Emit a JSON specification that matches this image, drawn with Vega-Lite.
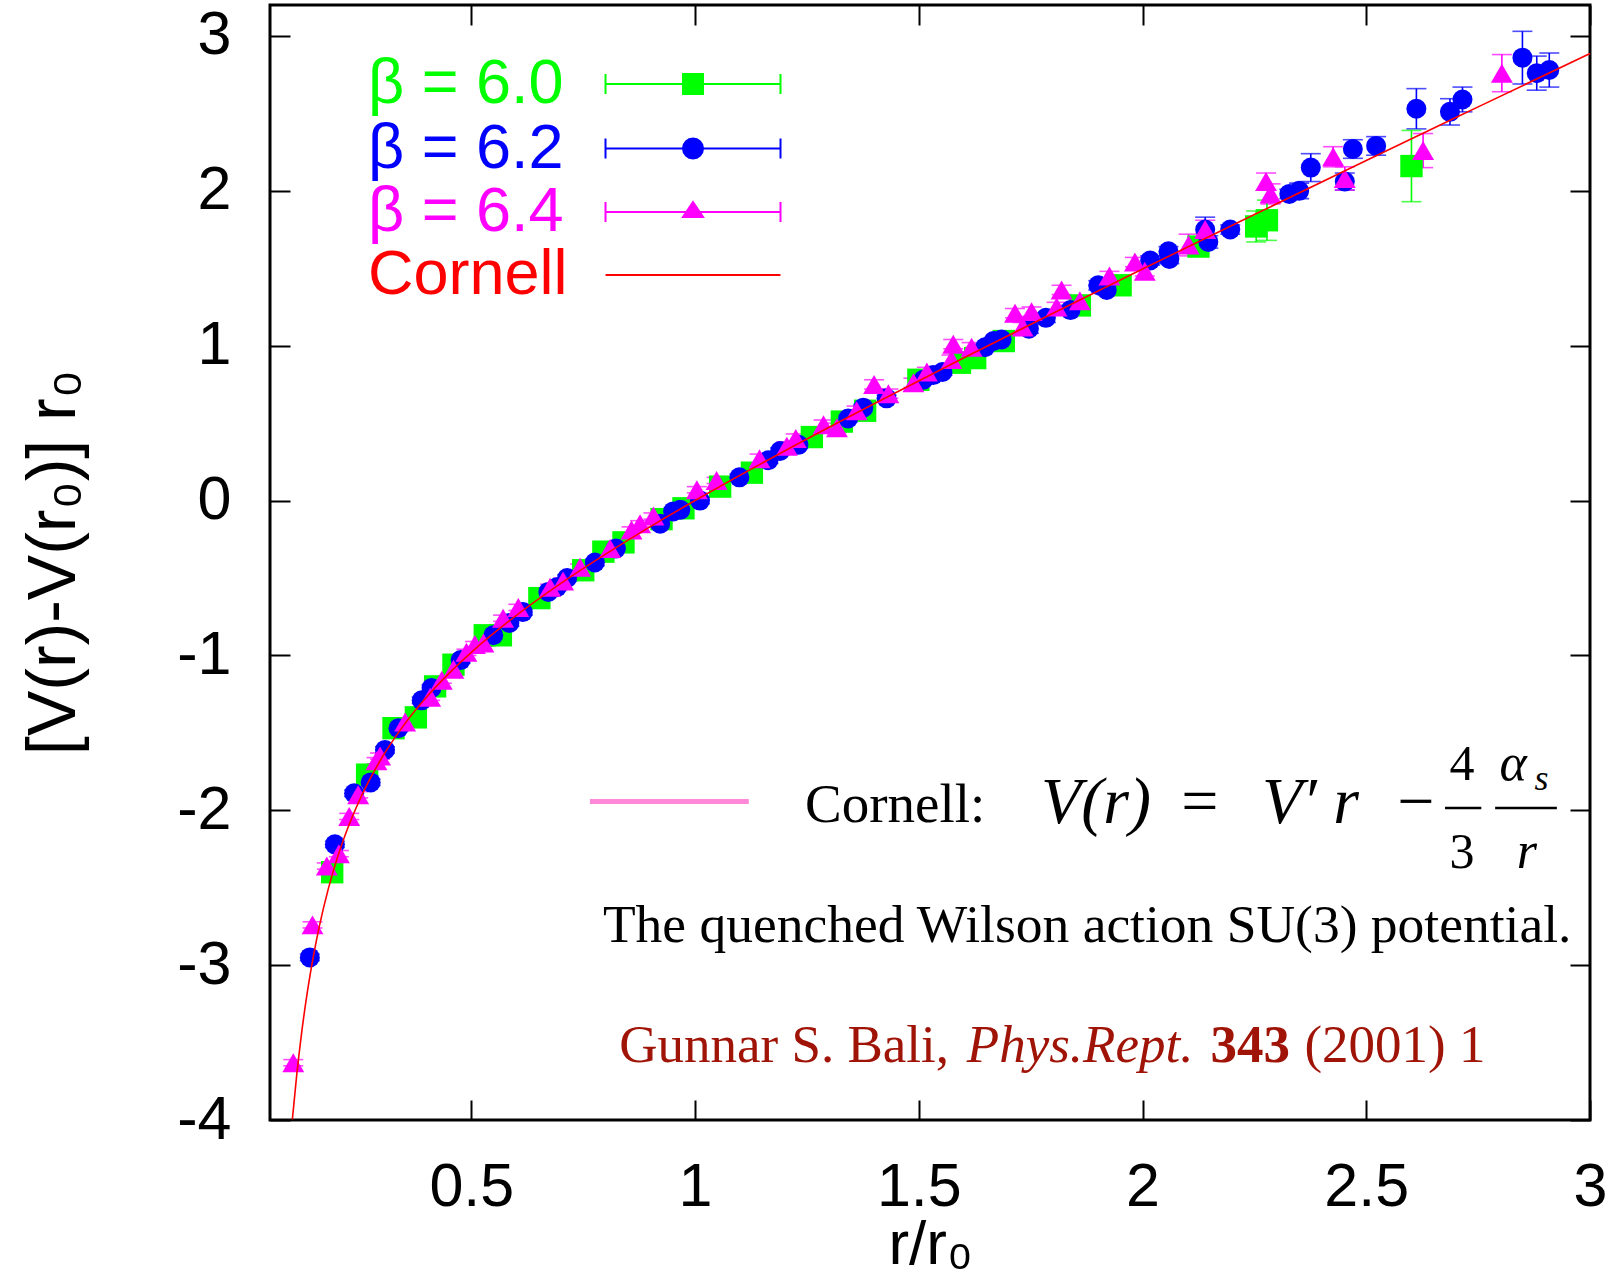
{
"$schema":"https://vega.github.io/schema/vega-lite/v6.json",
"width":1320,"height":1115,
"autosize":"none",
"padding":{"left":270,"top":5,"right":19,"bottom":162},
"background":"white",
"config":{
 "view":{"stroke":"black","strokeWidth":3},
 "axis":{"domain":false,"grid":false,"ticks":true,"tickSize":-20,"tickWidth":2,"tickColor":"black","labelFont":"Liberation Sans","labelFontSize":61,"labelColor":"black","titleFont":"Liberation Sans","titleFontWeight":"normal","titleColor":"black","labelFlush":false,"labelOverlap":false,"labelBound":false}
},
"datasets":{
 "pts":[
  {"s":"β = 6.0","x":0.189,"y":-2.40,"e":0.02},{"s":"β = 6.0","x":0.267,"y":-1.77,"e":0.02},{"s":"β = 6.0","x":0.326,"y":-1.47,"e":0.02},{"s":"β = 6.0","x":0.376,"y":-1.40,"e":0.02},{"s":"β = 6.0","x":0.419,"y":-1.20,"e":0.02},{"s":"β = 6.0","x":0.460,"y":-1.06,"e":0.02},{"s":"β = 6.0","x":0.530,"y":-0.87,"e":0.02},{"s":"β = 6.0","x":0.566,"y":-0.87,"e":0.02},{"s":"β = 6.0","x":0.652,"y":-0.63,"e":0.02},{"s":"β = 6.0","x":0.750,"y":-0.45,"e":0.02},{"s":"β = 6.0","x":0.795,"y":-0.33,"e":0.02},{"s":"β = 6.0","x":0.840,"y":-0.27,"e":0.02},{"s":"β = 6.0","x":0.925,"y":-0.12,"e":0.02},{"s":"β = 6.0","x":0.974,"y":-0.05,"e":0.02},{"s":"β = 6.0","x":1.056,"y":0.09,"e":0.02},{"s":"β = 6.0","x":1.127,"y":0.18,"e":0.02},{"s":"β = 6.0","x":1.261,"y":0.41,"e":0.02},{"s":"β = 6.0","x":1.328,"y":0.51,"e":0.02},{"s":"β = 6.0","x":1.380,"y":0.58,"e":0.02},{"s":"β = 6.0","x":1.499,"y":0.78,"e":0.02},{"s":"β = 6.0","x":1.592,"y":0.89,"e":0.02},{"s":"β = 6.0","x":1.626,"y":0.92,"e":0.02},{"s":"β = 6.0","x":1.690,"y":1.03,"e":0.02},{"s":"β = 6.0","x":1.860,"y":1.26,"e":0.03},{"s":"β = 6.0","x":1.951,"y":1.39,"e":0.03},{"s":"β = 6.0","x":2.125,"y":1.64,"e":0.04},{"s":"β = 6.0","x":2.254,"y":1.77,"e":0.10},{"s":"β = 6.0","x":2.278,"y":1.81,"e":0.13},{"s":"β = 6.0","x":2.601,"y":2.16,"e":0.23},
  {"s":"β = 6.2","x":0.139,"y":-2.95,"e":0.02},{"s":"β = 6.2","x":0.195,"y":-2.22,"e":0.02},{"s":"β = 6.2","x":0.238,"y":-1.89,"e":0.02},{"s":"β = 6.2","x":0.275,"y":-1.82,"e":0.02},{"s":"β = 6.2","x":0.307,"y":-1.61,"e":0.02},{"s":"β = 6.2","x":0.337,"y":-1.47,"e":0.02},{"s":"β = 6.2","x":0.389,"y":-1.29,"e":0.02},{"s":"β = 6.2","x":0.411,"y":-1.21,"e":0.02},{"s":"β = 6.2","x":0.476,"y":-1.03,"e":0.02},{"s":"β = 6.2","x":0.549,"y":-0.87,"e":0.02},{"s":"β = 6.2","x":0.585,"y":-0.79,"e":0.02},{"s":"β = 6.2","x":0.615,"y":-0.72,"e":0.02},{"s":"β = 6.2","x":0.672,"y":-0.59,"e":0.02},{"s":"β = 6.2","x":0.691,"y":-0.56,"e":0.02},{"s":"β = 6.2","x":0.714,"y":-0.50,"e":0.02},{"s":"β = 6.2","x":0.776,"y":-0.40,"e":0.02},{"s":"β = 6.2","x":0.823,"y":-0.31,"e":0.02},{"s":"β = 6.2","x":0.922,"y":-0.15,"e":0.02},{"s":"β = 6.2","x":0.951,"y":-0.07,"e":0.02},{"s":"β = 6.2","x":0.967,"y":-0.06,"e":0.02},{"s":"β = 6.2","x":1.011,"y":0.00,"e":0.02},{"s":"β = 6.2","x":1.099,"y":0.15,"e":0.02},{"s":"β = 6.2","x":1.164,"y":0.26,"e":0.02},{"s":"β = 6.2","x":1.190,"y":0.32,"e":0.02},{"s":"β = 6.2","x":1.231,"y":0.36,"e":0.02},{"s":"β = 6.2","x":1.342,"y":0.53,"e":0.02},{"s":"β = 6.2","x":1.376,"y":0.60,"e":0.02},{"s":"β = 6.2","x":1.428,"y":0.66,"e":0.02},{"s":"β = 6.2","x":1.510,"y":0.78,"e":0.02},{"s":"β = 6.2","x":1.532,"y":0.81,"e":0.02},{"s":"β = 6.2","x":1.553,"y":0.83,"e":0.02},{"s":"β = 6.2","x":1.648,"y":0.99,"e":0.02},{"s":"β = 6.2","x":1.667,"y":1.03,"e":0.02},{"s":"β = 6.2","x":1.685,"y":1.04,"e":0.02},{"s":"β = 6.2","x":1.746,"y":1.11,"e":0.03},{"s":"β = 6.2","x":1.784,"y":1.18,"e":0.03},{"s":"β = 6.2","x":1.839,"y":1.23,"e":0.03},{"s":"β = 6.2","x":1.901,"y":1.39,"e":0.03},{"s":"β = 6.2","x":1.920,"y":1.36,"e":0.03},{"s":"β = 6.2","x":2.017,"y":1.55,"e":0.03},{"s":"β = 6.2","x":2.058,"y":1.61,"e":0.03},{"s":"β = 6.2","x":2.060,"y":1.56,"e":0.03},{"s":"β = 6.2","x":2.140,"y":1.75,"e":0.08},{"s":"β = 6.2","x":2.147,"y":1.67,"e":0.04},{"s":"β = 6.2","x":2.196,"y":1.75,"e":0.03},{"s":"β = 6.2","x":2.328,"y":1.98,"e":0.03},{"s":"β = 6.2","x":2.350,"y":2.00,"e":0.05},{"s":"β = 6.2","x":2.376,"y":2.15,"e":0.09},{"s":"β = 6.2","x":2.452,"y":2.06,"e":0.055},{"s":"β = 6.2","x":2.470,"y":2.27,"e":0.06},{"s":"β = 6.2","x":2.522,"y":2.29,"e":0.06},{"s":"β = 6.2","x":2.612,"y":2.53,"e":0.13},{"s":"β = 6.2","x":2.687,"y":2.51,"e":0.085},{"s":"β = 6.2","x":2.715,"y":2.59,"e":0.08},{"s":"β = 6.2","x":2.849,"y":2.86,"e":0.17},{"s":"β = 6.2","x":2.881,"y":2.76,"e":0.11},{"s":"β = 6.2","x":2.909,"y":2.78,"e":0.11},
  {"s":"β = 6.4","x":0.102,"y":-3.63,"e":0.02},{"s":"β = 6.4","x":0.145,"y":-2.74,"e":0.02},{"s":"β = 6.4","x":0.177,"y":-2.36,"e":0.02},{"s":"β = 6.4","x":0.204,"y":-2.28,"e":0.02},{"s":"β = 6.4","x":0.227,"y":-2.04,"e":0.02},{"s":"β = 6.4","x":0.247,"y":-1.90,"e":0.02},{"s":"β = 6.4","x":0.288,"y":-1.68,"e":0.02},{"s":"β = 6.4","x":0.296,"y":-1.65,"e":0.02},{"s":"β = 6.4","x":0.352,"y":-1.43,"e":0.02},{"s":"β = 6.4","x":0.408,"y":-1.27,"e":0.02},{"s":"β = 6.4","x":0.434,"y":-1.16,"e":0.02},{"s":"β = 6.4","x":0.460,"y":-1.09,"e":0.02},{"s":"β = 6.4","x":0.489,"y":-0.98,"e":0.02},{"s":"β = 6.4","x":0.508,"y":-0.93,"e":0.02},{"s":"β = 6.4","x":0.527,"y":-0.92,"e":0.02},{"s":"β = 6.4","x":0.571,"y":-0.76,"e":0.02},{"s":"β = 6.4","x":0.605,"y":-0.69,"e":0.02},{"s":"β = 6.4","x":0.676,"y":-0.56,"e":0.02},{"s":"β = 6.4","x":0.705,"y":-0.52,"e":0.02},{"s":"β = 6.4","x":0.743,"y":-0.43,"e":0.02},{"s":"β = 6.4","x":0.810,"y":-0.31,"e":0.02},{"s":"β = 6.4","x":0.858,"y":-0.19,"e":0.02},{"s":"β = 6.4","x":0.877,"y":-0.15,"e":0.02},{"s":"β = 6.4","x":0.907,"y":-0.10,"e":0.02},{"s":"β = 6.4","x":1.004,"y":0.07,"e":0.02},{"s":"β = 6.4","x":1.048,"y":0.13,"e":0.02},{"s":"β = 6.4","x":1.144,"y":0.27,"e":0.03},{"s":"β = 6.4","x":1.205,"y":0.35,"e":0.03},{"s":"β = 6.4","x":1.225,"y":0.40,"e":0.03},{"s":"β = 6.4","x":1.287,"y":0.49,"e":0.03},{"s":"β = 6.4","x":1.317,"y":0.47,"e":0.03},{"s":"β = 6.4","x":1.361,"y":0.58,"e":0.03},{"s":"β = 6.4","x":1.400,"y":0.75,"e":0.03},{"s":"β = 6.4","x":1.432,"y":0.69,"e":0.03},{"s":"β = 6.4","x":1.488,"y":0.76,"e":0.03},{"s":"β = 6.4","x":1.518,"y":0.83,"e":0.03},{"s":"β = 6.4","x":1.573,"y":0.91,"e":0.03},{"s":"β = 6.4","x":1.577,"y":1.01,"e":0.03},{"s":"β = 6.4","x":1.618,"y":0.99,"e":0.03},{"s":"β = 6.4","x":1.715,"y":1.21,"e":0.03},{"s":"β = 6.4","x":1.732,"y":1.12,"e":0.03},{"s":"β = 6.4","x":1.752,"y":1.22,"e":0.03},{"s":"β = 6.4","x":1.808,"y":1.25,"e":0.03},{"s":"β = 6.4","x":1.819,"y":1.36,"e":0.03},{"s":"β = 6.4","x":1.860,"y":1.29,"e":0.03},{"s":"β = 6.4","x":1.926,"y":1.45,"e":0.03},{"s":"β = 6.4","x":1.983,"y":1.54,"e":0.03},{"s":"β = 6.4","x":2.005,"y":1.48,"e":0.03},{"s":"β = 6.4","x":2.103,"y":1.65,"e":0.07},{"s":"β = 6.4","x":2.140,"y":1.75,"e":0.06},{"s":"β = 6.4","x":2.276,"y":2.06,"e":0.055},{"s":"β = 6.4","x":2.286,"y":1.98,"e":0.065},{"s":"β = 6.4","x":2.426,"y":2.22,"e":0.065},{"s":"β = 6.4","x":2.452,"y":2.08,"e":0.075},{"s":"β = 6.4","x":2.627,"y":2.26,"e":0.11},{"s":"β = 6.4","x":2.803,"y":2.76,"e":0.12}
 ],
 "cornell":[
  {"s":"Cornell","x":0.1,"y":-3.996},{"s":"Cornell","x":0.11,"y":-3.701},{"s":"Cornell","x":0.12,"y":-3.453},{"s":"Cornell","x":0.13,"y":-3.240},{"s":"Cornell","x":0.14,"y":-3.057},{"s":"Cornell","x":0.15,"y":-2.896},{"s":"Cornell","x":0.16,"y":-2.753},{"s":"Cornell","x":0.18,"y":-2.511},{"s":"Cornell","x":0.2,"y":-2.312},{"s":"Cornell","x":0.22,"y":-2.144},{"s":"Cornell","x":0.25,"y":-1.935},{"s":"Cornell","x":0.3,"y":-1.661},{"s":"Cornell","x":0.35,"y":-1.447},{"s":"Cornell","x":0.4,"y":-1.269},{"s":"Cornell","x":0.45,"y":-1.116},{"s":"Cornell","x":0.5,"y":-0.98},{"s":"Cornell","x":0.6,"y":-0.743},{"s":"Cornell","x":0.7,"y":-0.535},{"s":"Cornell","x":0.8,"y":-0.346},{"s":"Cornell","x":0.9,"y":-0.168},{"s":"Cornell","x":1.0,"y":0.0},{"s":"Cornell","x":1.2,"y":0.320},{"s":"Cornell","x":1.4,"y":0.625},{"s":"Cornell","x":1.6,"y":0.920},{"s":"Cornell","x":1.8,"y":1.210},{"s":"Cornell","x":2.0,"y":1.495},{"s":"Cornell","x":2.25,"y":1.847},{"s":"Cornell","x":2.5,"y":2.196},{"s":"Cornell","x":2.75,"y":2.542},{"s":"Cornell","x":3.0,"y":2.887}
 ]
},
"resolve":{"axis":{"x":"independent","y":"independent"}},
"layer":[
 {"data":{"name":"pts"},
  "mark":{"type":"errorbar","ticks":true,"size":20,"thickness":1.6},
  "encoding":{
   "x":{"field":"x","type":"quantitative","scale":{"domain":[0.05,3],"nice":false,"zero":false},"axis":null},
   "y":{"field":"y","type":"quantitative","scale":{"domain":[-4,3.2],"nice":false,"zero":false},"axis":null},
   "yError":{"field":"e"},
   "color":{"field":"s","type":"nominal","scale":{"domain":["β = 6.0","β = 6.2","β = 6.4","Cornell"],"range":["#00ff00","#0000ff","#ff00ff","#ff0000"]},"legend":null}}},
 {"data":{"name":"pts"},
  "transform":[{"filter":{"field":"s","equal":"β = 6.0"}}],
  "mark":{"type":"point","shape":"square","size":500,"filled":true,"opacity":1},
  "encoding":{
   "x":{"field":"x","type":"quantitative","scale":{"domain":[0.05,3],"nice":false,"zero":false},"axis":{"orient":"top","values":[0.5,1,1.5,2,2.5,3],"labels":false,"title":null}},
   "y":{"field":"y","type":"quantitative","scale":{"domain":[-4,3.2],"nice":false,"zero":false},"axis":{"orient":"right","values":[-4,-3,-2,-1,0,1,2,3],"labels":false,"title":null}},
   "color":{"field":"s","type":"nominal","scale":{"domain":["β = 6.0","β = 6.2","β = 6.4","Cornell"],"range":["#00ff00","#0000ff","#ff00ff","#ff0000"]},"legend":null}}},
 {"data":{"name":"pts"},
  "transform":[{"filter":{"field":"s","equal":"β = 6.2"}}],
  "mark":{"type":"point","shape":"circle","size":400,"filled":true,"opacity":1},
  "encoding":{
   "x":{"field":"x","type":"quantitative","scale":{"domain":[0.05,3],"nice":false,"zero":false},"axis":null},
   "y":{"field":"y","type":"quantitative","scale":{"domain":[-4,3.2],"nice":false,"zero":false},"axis":null},
   "color":{"field":"s","type":"nominal","scale":{"domain":["β = 6.0","β = 6.2","β = 6.4","Cornell"],"range":["#00ff00","#0000ff","#ff00ff","#ff0000"]},"legend":null}}},
 {"data":{"name":"pts"},
  "transform":[{"filter":{"field":"s","equal":"β = 6.4"}}],
  "mark":{"type":"point","shape":"triangle-up","size":480,"filled":true,"opacity":1},
  "encoding":{
   "x":{"field":"x","type":"quantitative","scale":{"domain":[0.05,3],"nice":false,"zero":false},"axis":null},
   "y":{"field":"y","type":"quantitative","scale":{"domain":[-4,3.2],"nice":false,"zero":false},"axis":null},
   "color":{"field":"s","type":"nominal","scale":{"domain":["β = 6.0","β = 6.2","β = 6.4","Cornell"],"range":["#00ff00","#0000ff","#ff00ff","#ff0000"]},"legend":null}}},
 {"data":{"name":"cornell"},
  "mark":{"type":"line","strokeWidth":1.6,"interpolate":"monotone"},
  "encoding":{
   "x":{"field":"x","type":"quantitative","scale":{"domain":[0.05,3],"nice":false,"zero":false},
    "axis":{"orient":"bottom","values":[0.5,1,1.5,2,2.5,3],"labelExpr":"'' + datum.value","labelPadding":57.5,"title":"r/r₀","titleFontSize":62,"titleX":660,"titleY":143,"titleBaseline":"alphabetic"}},
   "y":{"field":"y","type":"quantitative","scale":{"domain":[-4,3.2],"nice":false,"zero":false},
    "axis":{"orient":"left","values":[-4,-3,-2,-1,0,1,2,3],"labelExpr":"'' + datum.value","labelPadding":59,"title":"[V(r)-V(r₀)] r₀","titleFontSize":68,"titleX":-196,"titleY":557,"titleBaseline":"alphabetic","titleAngle":270}},
   "color":{"field":"s","type":"nominal","scale":{"domain":["β = 6.0","β = 6.2","β = 6.4","Cornell"],"range":["#00ff00","#0000ff","#ff00ff","#ff0000"]},"legend":null}}},
 {"data":{"name":"cornell"},
  "transform":[{"filter":"datum.x > 5"}],
  "mark":{"type":"point","filled":true,"opacity":1},
  "encoding":{
   "x":{"field":"x","type":"quantitative","scale":{"domain":[0.05,3],"nice":false,"zero":false},"axis":null},
   "y":{"field":"y","type":"quantitative","scale":{"domain":[-4,3.2],"nice":false,"zero":false},"axis":null},
   "color":{"field":"s","type":"nominal","scale":{"domain":["β = 6.0","β = 6.2","β = 6.4","Cornell"],"range":["#00ff00","#0000ff","#ff00ff","#ff0000"]},"legend":null},
   "size":{"field":"s","type":"ordinal","scale":{"domain":["β = 6.0"],"range":[400,400]},
    "legend":{"title":null,"orient":"none","legendX":391.5,"legendY":47.5,"direction":"vertical","padding":0,"rowPadding":1,"symbolSize":400,"symbolStrokeWidth":2,"symbolOffset":0,"symbolOpacity":1,"labelAlign":"left","labelOffset":-356.5,"labelFont":"Liberation Sans","labelFontSize":63,"labelLimit":400,
     "symbolType":"M-8.75,0L8.75,0M-8.75,-1L-8.75,1M8.75,-1L8.75,1M-1,-1L1,-1L1,1L-1,1Z",
     "symbolFillColor":"#00ff00","symbolStrokeColor":"#00ff00","labelColor":"#00ff00"}},
   "opacity":{"field":"s","type":"ordinal","scale":{"domain":["β = 6.2"],"range":[1,1]},
    "legend":{"title":null,"orient":"none","legendX":391.5,"legendY":112,"direction":"vertical","padding":0,"rowPadding":1,"symbolSize":400,"symbolStrokeWidth":2,"symbolOffset":0,"labelAlign":"left","labelOffset":-356.5,"labelFont":"Liberation Sans","labelFontSize":63,"labelLimit":400,
     "symbolType":"M-8.75,0L8.75,0M-8.75,-1L-8.75,1M8.75,-1L8.75,1M1,0L0.924,0.383L0.707,0.707L0.383,0.924L0,1L-0.383,0.924L-0.707,0.707L-0.924,0.383L-1,0L-0.924,-0.383L-0.707,-0.707L-0.383,-0.924L0,-1L0.383,-0.924L0.707,-0.707L0.924,-0.383Z",
     "symbolFillColor":"#0000ff","symbolStrokeColor":"#0000ff","labelColor":"#0000ff"}},
   "strokeWidth":{"field":"s","type":"ordinal","scale":{"domain":["β = 6.4"],"range":[2,2]},
    "legend":{"title":null,"orient":"none","legendX":391.5,"legendY":175.5,"direction":"vertical","padding":0,"rowPadding":1,"symbolSize":400,"symbolStrokeWidth":2,"symbolOffset":0,"symbolOpacity":1,"labelAlign":"left","labelOffset":-356.5,"labelFont":"Liberation Sans","labelFontSize":63,"labelLimit":400,
     "symbolType":"M-8.75,0L8.75,0M-8.75,-1L-8.75,1M8.75,-1L8.75,1M0,-1L1,0.5L-1,0.5Z",
     "symbolFillColor":"#ff00ff","symbolStrokeColor":"#ff00ff","labelColor":"#ff00ff"}},
   "strokeDash":{"field":"s","type":"nominal","scale":{"domain":["Cornell"],"range":[[1,0]]},
    "legend":{"title":null,"orient":"none","legendX":391.5,"legendY":238.5,"direction":"vertical","padding":0,"rowPadding":1,"symbolSize":400,"symbolStrokeWidth":2,"symbolOffset":0,"symbolOpacity":1,"labelAlign":"left","labelOffset":-356.5,"labelFont":"Liberation Sans","labelFontSize":63,"labelLimit":400,
     "symbolType":"M-8.75,0L8.75,0",
     "symbolFillColor":"#ff0000","symbolStrokeColor":"#ff0000","labelColor":"#ff0000"}}}},
 {"data":{"values":[{}]},"mark":{"type":"rule","color":"#ff88d8","strokeWidth":5},
  "encoding":{"x":{"datum":0.765,"type":"quantitative","scale":{"domain":[0.05,3],"nice":false,"zero":false},"axis":null},"x2":{"datum":1.12},"y":{"datum":-1.943,"type":"quantitative","scale":{"domain":[-4,3.2],"nice":false,"zero":false},"axis":null}}},
 {"data":{"values":[{}]},"mark":{"type":"text","text":"Cornell:","font":"Liberation Serif","fontSize":55,"align":"left","baseline":"alphabetic","color":"black"},
  "encoding":{"x":{"datum":1.2456,"type":"quantitative","scale":{"domain":[0.05,3],"nice":false,"zero":false},"axis":null},"y":{"datum":-2.0725,"type":"quantitative","scale":{"domain":[-4,3.2],"nice":false,"zero":false},"axis":null}}},
 {"data":{"values":[{}]},"mark":{"type":"text","text":"V(r)","font":"Liberation Serif","fontStyle":"italic","fontSize":66,"align":"left","baseline":"alphabetic","color":"black"},
  "encoding":{"x":{"datum":1.773,"type":"quantitative","scale":{"domain":[0.05,3],"nice":false,"zero":false},"axis":null},"y":{"datum":-2.08,"type":"quantitative","scale":{"domain":[-4,3.2],"nice":false,"zero":false},"axis":null}}},
 {"data":{"values":[{}]},"mark":{"type":"text","text":"=","font":"Liberation Serif","fontSize":66,"align":"center","baseline":"alphabetic","color":"black"},
  "encoding":{"x":{"datum":2.128,"type":"quantitative","scale":{"domain":[0.05,3],"nice":false,"zero":false},"axis":null},"y":{"datum":-2.08,"type":"quantitative","scale":{"domain":[-4,3.2],"nice":false,"zero":false},"axis":null}}},
 {"data":{"values":[{}]},"mark":{"type":"text","text":"V′ r","font":"Liberation Serif","fontStyle":"italic","fontSize":66,"align":"left","baseline":"alphabetic","color":"black"},
  "encoding":{"x":{"datum":2.267,"type":"quantitative","scale":{"domain":[0.05,3],"nice":false,"zero":false},"axis":null},"y":{"datum":-2.08,"type":"quantitative","scale":{"domain":[-4,3.2],"nice":false,"zero":false},"axis":null}}},
 {"data":{"values":[{}]},"mark":{"type":"text","text":"−","font":"Liberation Serif","fontSize":66,"align":"center","baseline":"alphabetic","color":"black"},
  "encoding":{"x":{"datum":2.611,"type":"quantitative","scale":{"domain":[0.05,3],"nice":false,"zero":false},"axis":null},"y":{"datum":-2.08,"type":"quantitative","scale":{"domain":[-4,3.2],"nice":false,"zero":false},"axis":null}}},
 {"data":{"values":[{}]},"mark":{"type":"text","text":"4","font":"Liberation Serif","fontSize":50,"align":"center","baseline":"alphabetic","color":"black"},
  "encoding":{"x":{"datum":2.714,"type":"quantitative","scale":{"domain":[0.05,3],"nice":false,"zero":false},"axis":null},"y":{"datum":-1.805,"type":"quantitative","scale":{"domain":[-4,3.2],"nice":false,"zero":false},"axis":null}}},
 {"data":{"values":[{}]},"mark":{"type":"text","text":"3","font":"Liberation Serif","fontSize":50,"align":"center","baseline":"alphabetic","color":"black"},
  "encoding":{"x":{"datum":2.714,"type":"quantitative","scale":{"domain":[0.05,3],"nice":false,"zero":false},"axis":null},"y":{"datum":-2.373,"type":"quantitative","scale":{"domain":[-4,3.2],"nice":false,"zero":false},"axis":null}}},
 {"data":{"values":[{}]},"mark":{"type":"text","text":"α","font":"Liberation Serif","fontStyle":"italic","fontSize":52,"align":"center","baseline":"alphabetic","color":"black"},
  "encoding":{"x":{"datum":2.828,"type":"quantitative","scale":{"domain":[0.05,3],"nice":false,"zero":false},"axis":null},"y":{"datum":-1.805,"type":"quantitative","scale":{"domain":[-4,3.2],"nice":false,"zero":false},"axis":null}}},
 {"data":{"values":[{}]},"mark":{"type":"text","text":"s","font":"Liberation Serif","fontStyle":"italic","fontSize":36,"align":"left","baseline":"alphabetic","color":"black"},
  "encoding":{"x":{"datum":2.876,"type":"quantitative","scale":{"domain":[0.05,3],"nice":false,"zero":false},"axis":null},"y":{"datum":-1.869,"type":"quantitative","scale":{"domain":[-4,3.2],"nice":false,"zero":false},"axis":null}}},
 {"data":{"values":[{}]},"mark":{"type":"text","text":"r","font":"Liberation Serif","fontStyle":"italic","fontSize":52,"align":"center","baseline":"alphabetic","color":"black"},
  "encoding":{"x":{"datum":2.859,"type":"quantitative","scale":{"domain":[0.05,3],"nice":false,"zero":false},"axis":null},"y":{"datum":-2.373,"type":"quantitative","scale":{"domain":[-4,3.2],"nice":false,"zero":false},"axis":null}}},
 {"data":{"values":[{}]},"mark":{"type":"rule","color":"black","strokeWidth":2.5},
  "encoding":{"x":{"datum":2.676,"type":"quantitative","scale":{"domain":[0.05,3],"nice":false,"zero":false},"axis":null},"x2":{"datum":2.757},"y":{"datum":-1.985,"type":"quantitative","scale":{"domain":[-4,3.2],"nice":false,"zero":false},"axis":null}}},
 {"data":{"values":[{}]},"mark":{"type":"rule","color":"black","strokeWidth":2.5},
  "encoding":{"x":{"datum":2.788,"type":"quantitative","scale":{"domain":[0.05,3],"nice":false,"zero":false},"axis":null},"x2":{"datum":2.926},"y":{"datum":-1.985,"type":"quantitative","scale":{"domain":[-4,3.2],"nice":false,"zero":false},"axis":null}}},
 {"data":{"values":[{}]},"mark":{"type":"text","text":"The quenched Wilson action SU(3) potential.","font":"Liberation Serif","fontSize":53.5,"align":"left","baseline":"alphabetic","color":"black"},
  "encoding":{"x":{"datum":0.794,"type":"quantitative","scale":{"domain":[0.05,3],"nice":false,"zero":false},"axis":null},"y":{"datum":-2.849,"type":"quantitative","scale":{"domain":[-4,3.2],"nice":false,"zero":false},"axis":null}}},
 {"data":{"values":[{}]},"mark":{"type":"text","text":"Gunnar S. Bali,","font":"Liberation Serif","fontSize":53,"align":"left","baseline":"alphabetic","color":"#a01408"},
  "encoding":{"x":{"datum":0.8306,"type":"quantitative","scale":{"domain":[0.05,3],"nice":false,"zero":false},"axis":null},"y":{"datum":-3.624,"type":"quantitative","scale":{"domain":[-4,3.2],"nice":false,"zero":false},"axis":null}}},
 {"data":{"values":[{}]},"mark":{"type":"text","text":"Phys.Rept.","font":"Liberation Serif","fontStyle":"italic","fontSize":53,"align":"left","baseline":"alphabetic","color":"#a01408"},
  "encoding":{"x":{"datum":1.6072,"type":"quantitative","scale":{"domain":[0.05,3],"nice":false,"zero":false},"axis":null},"y":{"datum":-3.624,"type":"quantitative","scale":{"domain":[-4,3.2],"nice":false,"zero":false},"axis":null}}},
 {"data":{"values":[{}]},"mark":{"type":"text","text":"343","font":"Liberation Serif","fontWeight":"bold","fontSize":53,"align":"left","baseline":"alphabetic","color":"#a01408"},
  "encoding":{"x":{"datum":2.152,"type":"quantitative","scale":{"domain":[0.05,3],"nice":false,"zero":false},"axis":null},"y":{"datum":-3.624,"type":"quantitative","scale":{"domain":[-4,3.2],"nice":false,"zero":false},"axis":null}}},
 {"data":{"values":[{}]},"mark":{"type":"text","text":"(2001) 1","font":"Liberation Serif","fontSize":53,"align":"left","baseline":"alphabetic","color":"#a01408"},
  "encoding":{"x":{"datum":2.3617,"type":"quantitative","scale":{"domain":[0.05,3],"nice":false,"zero":false},"axis":null},"y":{"datum":-3.624,"type":"quantitative","scale":{"domain":[-4,3.2],"nice":false,"zero":false},"axis":null}}}
]
}
